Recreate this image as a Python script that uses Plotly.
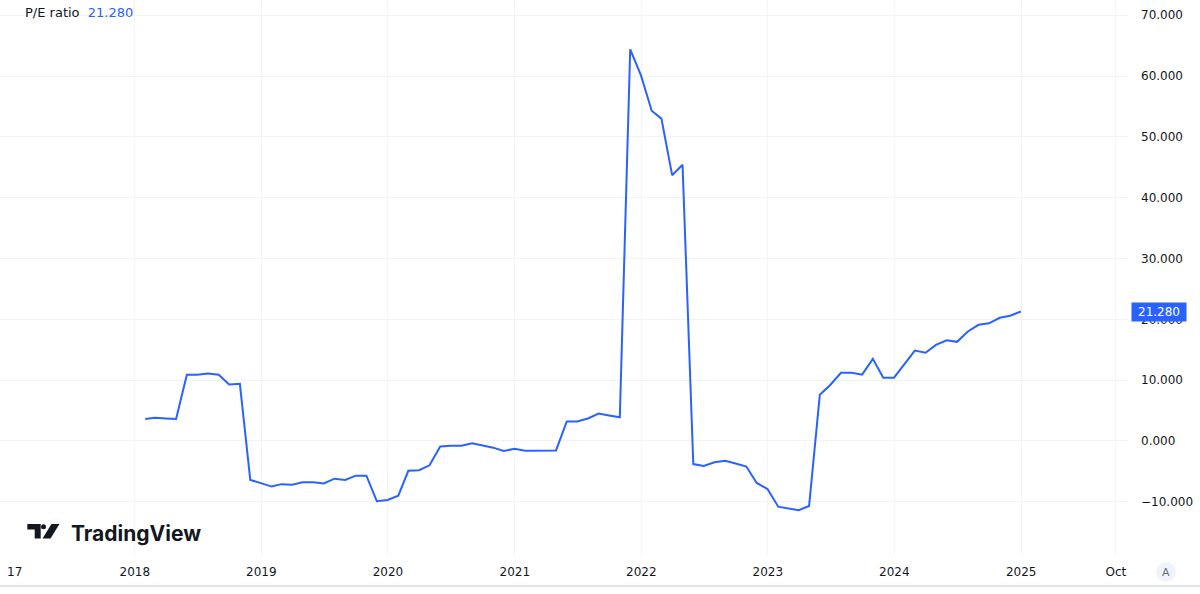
import pandas as pd
import plotly.graph_objects as go

# P/E ratio, month-end values Jan 2018 .. Dec 2024
pe_ratio = [
    3.6, 3.8, 3.7, 3.6, 10.9, 10.9, 11.1, 10.9, 9.3, 9.4, -6.4, -6.95,
    -7.5, -7.1, -7.2, -6.8, -6.8, -7.0, -6.2, -6.4, -5.7, -5.7, -9.9, -9.7,
    -9.0, -4.9, -4.8, -4.0, -0.9, -0.8, -0.8, -0.4, -0.7, -1.1, -1.65, -1.3,
    -1.6, -1.55, -1.55, -1.55, 3.2, 3.2, 3.7, 4.5, 4.2, 3.9, 64.4, 60.1,
    54.3, 53.0, 43.7, 45.4, -3.8, -4.1, -3.5, -3.25, -3.7, -4.2, -6.9, -7.9,
    -10.8, -11.1, -11.4, -10.7, 7.6, 9.2, 11.2, 11.2, 10.9, 13.5, 10.4, 10.4,
    12.8, 14.85, 14.5, 15.8, 16.55, 16.3, 18.0, 19.1, 19.35, 20.25, 20.6, 21.28,
]
dates = pd.date_range("2018-02-01", periods=len(pe_ratio), freq="MS") - pd.Timedelta(days=1)

tick_dates = ["2018-01-01", "2019-01-01", "2020-01-01", "2021-01-01",
              "2022-01-01", "2023-01-01", "2024-01-01", "2025-01-01", "2025-10-01"]
tick_labels = ["2018", "2019", "2020", "2021", "2022", "2023", "2024", "2025", "Oct"]
y_ticks = [-10, 0, 10, 20, 30, 40, 50, 60, 70]

BLUE = "#2962FF"
TEXT = "#131722"
GRID = "#f2f3f5"
FONT = "DejaVu Sans"

W, H = 1200, 594
PLOT_R, PLOT_B = 1128, 555  # plot area right / bottom in pixels


def px(x, y):
    """pixel -> paper coords"""
    return x / PLOT_R, (PLOT_B - y) / PLOT_B


fig = go.Figure()
fig.add_trace(go.Scatter(
    x=dates,
    y=pe_ratio,
    mode="lines",
    line=dict(color=BLUE, width=2),
    hovertemplate="%{x|%b %Y}<br>P/E: %{y:.3f}<extra></extra>",
))

shapes = []
# bottom border
x0, y0 = px(0, 586)
x1, _ = px(W, 586)
shapes.append(dict(type="line", xref="paper", yref="paper", x0=x0, x1=x1, y0=y0, y1=y0,
                   line=dict(color="#e0e3eb", width=2)))
# "A" button
cx0, cy0 = px(1156, 562)
cx1, cy1 = px(1176, 582)
shapes.append(dict(type="circle", xref="paper", yref="paper", x0=cx0, x1=cx1, y0=cy1, y1=cy0,
                   fillcolor="#f0f3fa", line=dict(width=0)))


# TradingView logo (rough glyph)
def poly(points):
    pts = [px(a, b) for a, b in points]
    return "M " + " L ".join(f"{a:.5f},{b:.5f}" for a, b in pts) + " Z"


shapes.append(dict(type="path", xref="paper", yref="paper", line=dict(width=0), fillcolor=TEXT,
                   path=poly([(27.3, 524), (40.7, 524), (40.7, 538.5), (34.7, 538.5),
                              (34.7, 529.5), (27.3, 529.5)])))
dx0, dy0 = px(41.0, 524.3)
dx1, dy1 = px(46.0, 529.3)
shapes.append(dict(type="circle", xref="paper", yref="paper", x0=dx0, x1=dx1, y0=dy1, y1=dy0,
                   fillcolor=TEXT, line=dict(width=0)))
shapes.append(dict(type="path", xref="paper", yref="paper", line=dict(width=0), fillcolor=TEXT,
                   path=poly([(51.5, 524), (59.5, 524), (50.5, 538.5), (42.5, 538.5)])))

annotations = []
ax, ay = px(23, 13)
annotations.append(dict(xref="paper", yref="paper", x=ax, y=ay, xanchor="left", yanchor="middle",
                        showarrow=False, align="left",
                        text=f"P/E ratio  <span style='color:{BLUE}'>21.280</span>",
                        font=dict(family=FONT, size=13, color=TEXT)))
lx, ly = px(69, 533)
annotations.append(dict(xref="paper", yref="paper", x=lx, y=ly, xanchor="left", yanchor="middle",
                        showarrow=False, text="<b>TradingView</b>",
                        font=dict(family="Inter", size=21, color=TEXT)))
bx, _ = px(1131, 0)
annotations.append(dict(xref="paper", yref="y", x=bx, y=pe_ratio[-1], xanchor="left", yanchor="middle",
                        showarrow=False, text=f"{pe_ratio[-1]:.3f}", bgcolor=BLUE,
                        width=50, height=14, borderpad=2,
                        font=dict(family=FONT, size=12, color="white")))
tx, ty = px(1166, 572)
annotations.append(dict(xref="paper", yref="paper", x=tx, y=ty, xanchor="center", yanchor="middle",
                        showarrow=False, text="A", font=dict(family=FONT, size=11, color="#6a6d78")))
# clipped 2017 label at the left edge
cx, cy = px(23.5, 572)
annotations.append(dict(xref="paper", yref="paper", x=cx, y=cy, xanchor="right", yanchor="middle",
                        showarrow=False, text="17", font=dict(family=FONT, size=12, color=TEXT)))

fig.update_layout(
    width=W, height=H,
    margin=dict(l=0, r=W - PLOT_R, t=0, b=H - PLOT_B),
    paper_bgcolor="white",
    plot_bgcolor="white",
    showlegend=False,
    font=dict(family=FONT, size=12, color=TEXT),
    xaxis=dict(
        type="date",
        range=["2016-12-08", "2025-11-05"],
        tickvals=tick_dates,
        ticktext=tick_labels,
        showgrid=True, gridcolor=GRID, gridwidth=1,
        zeroline=False, showline=False,
        ticks="", ticklabelstandoff=8,
        automargin=False,
        tickfont=dict(family=FONT, size=12, color=TEXT),
    ),
    yaxis=dict(
        side="right",
        range=[-18.75, 72.5],
        tickvals=y_ticks,
        tickformat=".3f",
        showgrid=True, gridcolor=GRID, gridwidth=1,
        zeroline=False, showline=False,
        ticks="", ticklabelstandoff=12,
        automargin=False,
        tickfont=dict(family=FONT, size=12, color=TEXT),
    ),
    shapes=shapes,
    annotations=annotations,
)

# page default body margin would shift the figure by 8px
fig.write_html("out.html", config={"displayModeBar": False},
               post_script="document.body.style.margin='0';")
